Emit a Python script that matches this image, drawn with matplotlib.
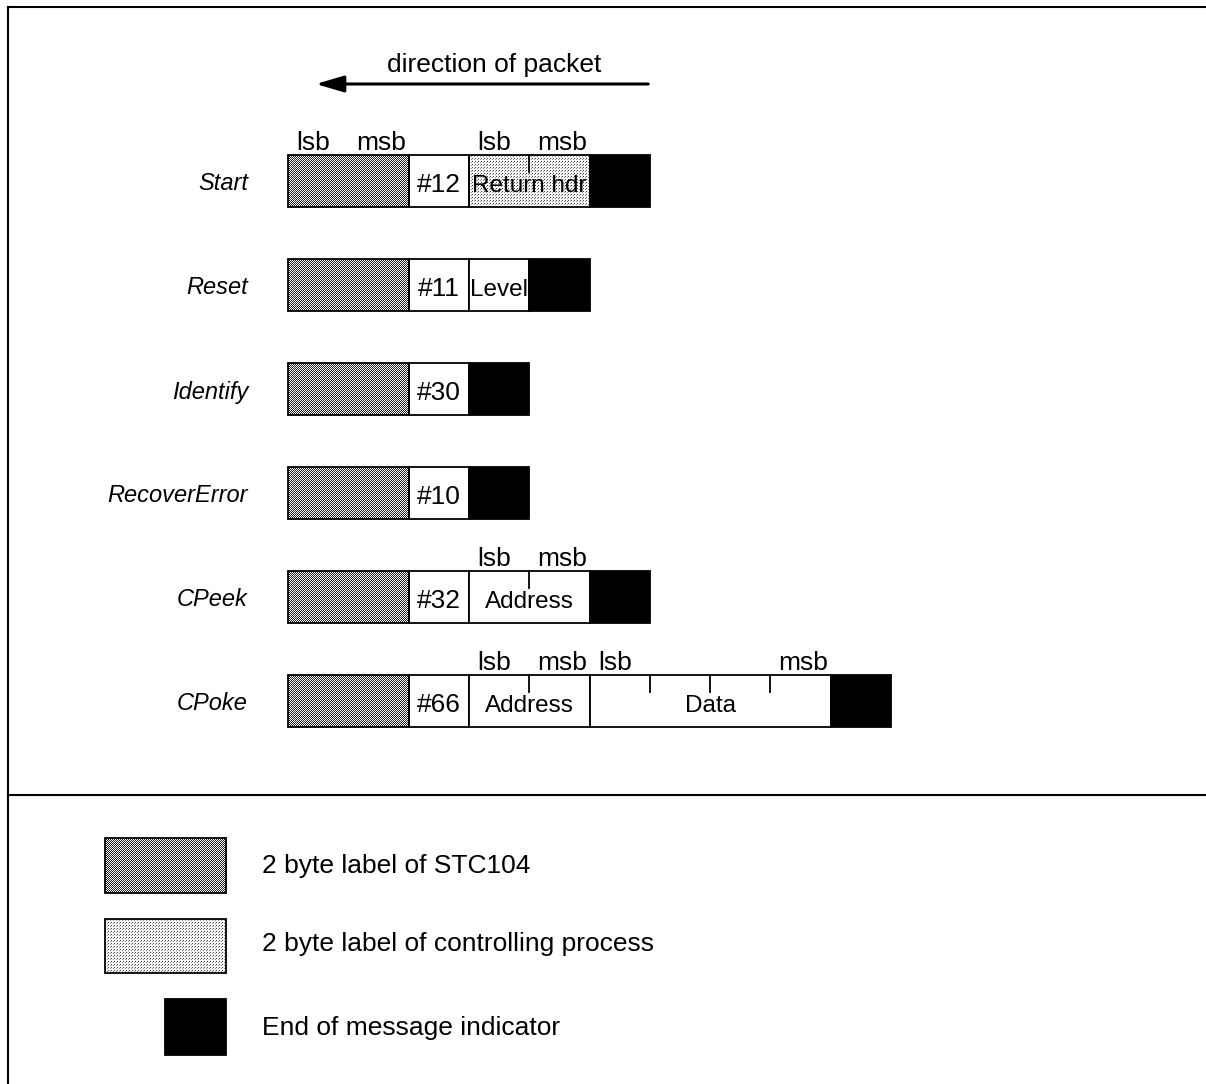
import numpy as np
import matplotlib.pyplot as plt
from matplotlib.patches import Rectangle

plt.rcParams['font.family'] = ['Liberation Sans', 'DejaVu Sans']

# packet rows (top to bottom)
rows = ['Start', 'Reset', 'Identify', 'RecoverError', 'CPeek', 'CPoke']
commands = ['#12', '#11', '#30', '#10', '#32', '#66']
# parameter fields after the command byte: (name, bytes)
params = [
    [('Return hdr', 2)],
    [('Level', 1)],
    [],
    [],
    [('Address', 2)],
    [('Address', 2), ('Data', 4)],
]
# fill of each parameter field
param_styles = [['light'], ['white'], [], [], ['white'], ['white', 'white']]
# lsb/msb markers over the 2 byte label
label_marks = [True, False, False, False, False, False]

legend_texts = ['2 byte label of STC104', '2 byte label of controlling process',
                'End of message indicator']

# geometry in pixels
W, H = 1206, 1084
x0 = 288
bw = 60.3
row_top = [155, 259, 363, 467, 571, 675]
rh = 52

fig = plt.figure(figsize=(W / 100, H / 100), dpi=100)
ax = fig.add_axes([0, 0, 1, 1])
ax.set_xlim(0, W)
ax.set_ylim(H, 0)
ax.axis('off')


def texture(kind, h, w):
    yy, xx = np.mgrid[0:h, 0:w]
    if kind == 'dark':
        img = np.where((xx + yy) % 2 > 0, 1.0, 0.12)
    else:
        img = np.ones((h, w)) * 0.97
        img[(yy % 3 == 0) & (xx % 3 == 0)] = 0.25
        img[(yy % 3 == 1) & (xx % 3 == 2)] = 0.55
    return img


def box(x, y, w, h, kind):
    if kind in ('dark', 'light'):
        ax.imshow(texture(kind, int(round(h)), int(round(w))), cmap='gray',
                  vmin=0, vmax=1, extent=(x, x + w, y + h, y),
                  interpolation='nearest', zorder=1)
        ax.add_patch(Rectangle((x, y), w, h, fill=False, ec='black', lw=1.3, zorder=3))
    elif kind == 'black':
        ax.add_patch(Rectangle((x, y), w, h, fc='black', ec='black', lw=1.3, zorder=2))
    else:
        ax.add_patch(Rectangle((x, y), w, h, fc='white', ec='black', lw=1.3, zorder=2))


def marks(x, y, nbytes):
    ax.text(x + 0.42 * bw, y - 5, 'lsb', ha='center', va='baseline', fontsize=19)
    ax.text(x + (nbytes - 0.45) * bw, y - 5, 'msb', ha='center', va='baseline', fontsize=19)


for i, name in enumerate(rows):
    y = row_top[i]
    cy = y + rh / 2
    ax.text(248, cy + 3, name, ha='right', va='center', fontsize=17, style='italic')
    x = x0
    box(x, y, 2 * bw, rh, 'dark')
    if label_marks[i]:
        marks(x, y, 2)
    x += 2 * bw
    box(x, y, bw, rh, 'white')
    ax.text(x + bw / 2, cy + 4, commands[i], ha='center', va='center', fontsize=19, zorder=4)
    x += bw
    for (pname, nb), st in zip(params[i], param_styles[i]):
        box(x, y, nb * bw, rh, st)
        for k in range(1, nb):
            ax.plot([x + k * bw, x + k * bw], [y, y + 17], color='black', lw=1.3, zorder=4)
        ax.text(x + nb * bw / 2, cy + 5, pname, ha='center', va='center', fontsize=17.5, zorder=4)
        if nb > 1:
            marks(x, y, nb)
        x += nb * bw
    box(x, y, bw, rh, 'black')

# direction arrow
ax.annotate('', xy=(313, 84), xytext=(651, 84),
            arrowprops=dict(arrowstyle='-|>,head_length=1.7,head_width=0.5',
                            color='black', lw=2.2))
ax.text(494, 65, 'direction of packet', ha='center', va='center', fontsize=19)

# frame and divider
ax.plot([8, W + 5], [7, 7], color='black', lw=1.5)
ax.plot([8, 8], [7, H + 5], color='black', lw=1.5)
ax.plot([8, W + 5], [795, 795], color='black', lw=1.5)

# legend
box(105, 838, 121, 55, 'dark')
box(105, 919, 121, 54, 'light')
box(165, 999, 61, 56, 'black')
for t, ty in zip(legend_texts, [866, 944, 1028]):
    ax.text(262, ty, t, ha='left', va='center', fontsize=19)

fig.savefig('out.png', dpi=100)
